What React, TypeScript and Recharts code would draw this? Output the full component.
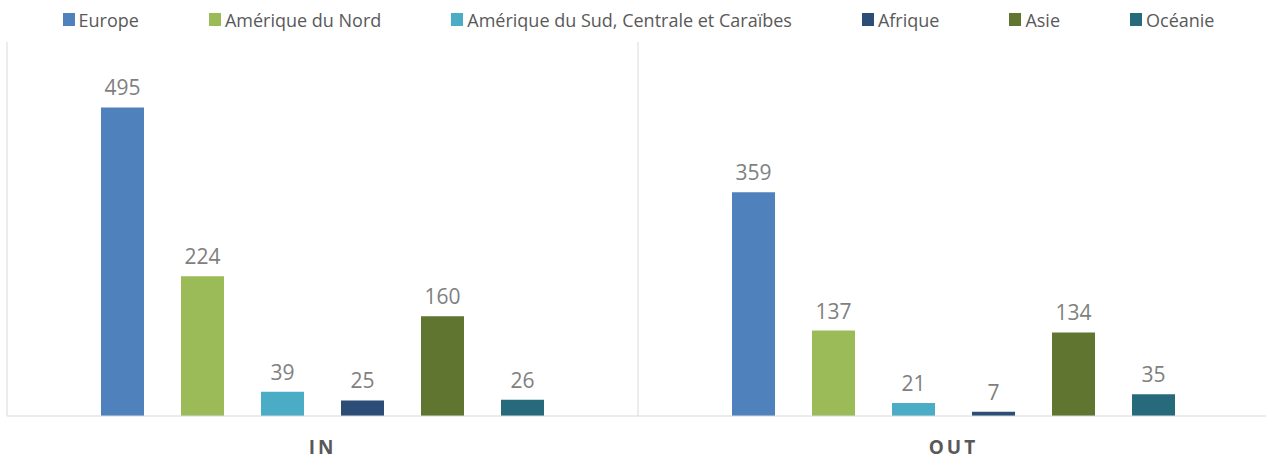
import { BarChart, Bar, XAxis, YAxis, CartesianGrid, Legend, LabelList } from "recharts";

const categories = ["IN", "OUT"];
const europe = [495, 359];
const ameriqueNord = [224, 137];
const ameriqueSud = [39, 21];
const afrique = [25, 7];
const asie = [160, 134];
const oceanie = [26, 35];

const series = [
  { key: "europe", name: "Europe", values: europe, color: "#4f81bd" },
  { key: "ameriqueNord", name: "Amérique du Nord", values: ameriqueNord, color: "#9bbb59" },
  { key: "ameriqueSud", name: "Amérique du Sud, Centrale et Caraïbes", values: ameriqueSud, color: "#4bacc6" },
  { key: "afrique", name: "Afrique", values: afrique, color: "#2c4d75" },
  { key: "asie", name: "Asie", values: asie, color: "#5f7530" },
  { key: "oceanie", name: "Océanie", values: oceanie, color: "#276a7c" },
];

const data = categories.map((cat, i) => {
  const row: Record<string, string | number> = { category: cat };
  series.forEach((s) => {
    row[s.key] = s.values[i];
  });
  return row;
});

const FONT = "'Open Sans', sans-serif";

function LegendContent() {
  return (
    <div
      style={{
        height: 30,
        boxSizing: "border-box",
        paddingTop: 9,
        paddingLeft: 11,
        display: "flex",
        alignItems: "center",
        justifyContent: "center",
        gap: 70,
        fontFamily: FONT,
        fontSize: 18,
        color: "#595959",
      }}
    >
      {series.map((s) => (
        <div key={s.key} style={{ display: "flex", alignItems: "center", whiteSpace: "nowrap" }}>
          <span style={{ width: 12, height: 13, background: s.color, marginRight: 4, display: "inline-block" }} />
          <span>{s.name}</span>
        </div>
      ))}
    </div>
  );
}

export default function App() {
  return (
    <div style={{ position: "absolute", left: 0, top: 0, width: 1266, height: 464, background: "#fff" }}>
      <BarChart
        width={1266}
        height={464}
        data={data}
        margin={{ top: 12, right: -3, bottom: 0, left: 7 }}
        barSize={43}
        barGap={37}
      >
        <CartesianGrid
          stroke="#d9d9d9"
          horizontal={false}
          verticalCoordinatesGenerator={({ offset }: any) => [
            offset.left,
            offset.left + offset.width / 2,
            offset.left + offset.width,
          ]}
        />
        <XAxis
          dataKey="category"
          height={48}
          tickLine={false}
          tickSize={0}
          tickMargin={25}
          axisLine={{ stroke: "#d9d9d9" }}
          tick={{
            fontFamily: FONT,
            fontSize: 19,
            fontWeight: 700,
            fill: "#595959",
            letterSpacing: 3,
          }}
        />
        <YAxis hide domain={[0, 600]} />
        <Legend
          verticalAlign="top"
          content={<LegendContent />}
          wrapperStyle={{ top: 0, left: 0, width: 1266 }}
        />
        {series.map((s) => (
          <Bar key={s.key} dataKey={s.key} name={s.name} fill={s.color} isAnimationActive={false}>
            <LabelList
              dataKey={s.key}
              position="top"
              offset={12}
              style={{ fontFamily: FONT, fontSize: 21, fill: "#7f7f7f" }}
            />
          </Bar>
        ))}
      </BarChart>
    </div>
  );
}
